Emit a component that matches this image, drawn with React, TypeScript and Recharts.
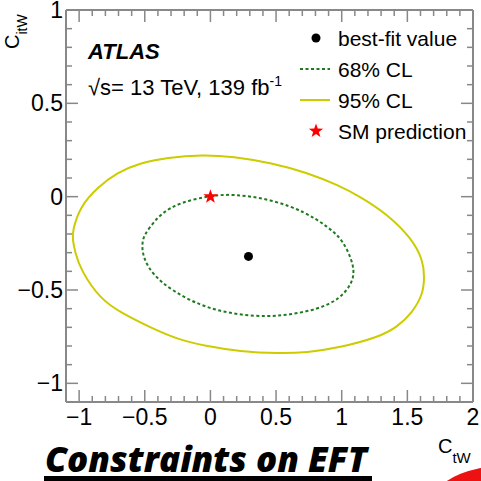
import React from "react";
import {
  ComposedChart,
  Scatter,
  XAxis,
  YAxis,
} from "recharts";

// 95% CL contour, traced counter-clockwise starting on the left side
const C95_X = [
  -1.05, -0.99, -0.86, -0.71, -0.54, -0.33, -0.06, 0.17, 0.47, 0.73, 0.98,
  1.14, 1.34, 1.53, 1.62, 1.63, 1.62, 1.54, 1.42, 1.29, 0.98, 0.73, 0.53,
  0.22, -0.03, -0.23, -0.46, -0.66, -0.84, -0.99, -1.03, -1.05,
];
const C95_Y = [
  -0.18, -0.05, 0.05, 0.13, 0.18, 0.21, 0.225, 0.215, 0.18, 0.13, 0.06,
  0.0, -0.09, -0.22, -0.34, -0.43, -0.52, -0.62, -0.7, -0.75, -0.81, -0.835,
  -0.84, -0.83, -0.8, -0.77, -0.7, -0.63, -0.55, -0.39, -0.3, -0.23,
];

// 68% CL contour
const C68_X = [
  -0.52, -0.48, -0.38, -0.23, 0.0, 0.17, 0.47, 0.73, 0.89, 1.01, 1.1, 1.085,
  0.985, 0.81, 0.6, 0.43, 0.22, 0.02, -0.18, -0.38, -0.48, -0.52,
];
const C68_Y = [
  -0.23, -0.18, -0.09, -0.03, 0.005, 0.015, -0.015, -0.085, -0.16, -0.23,
  -0.375, -0.46, -0.55, -0.605, -0.633, -0.643, -0.633, -0.605, -0.55, -0.46,
  -0.375, -0.3,
];

const BEST_FIT = [{ x: 0.29, y: -0.32 }];
const SM_POINT = [{ x: 0, y: 0 }];

const X_DOMAIN = [-1.1, 2];
const Y_DOMAIN = [-1.1, 1];

const LEGEND_ITEMS = ["best-fit value", "68% CL", "95% CL", "SM prediction"];

const zip = (xs: number[], ys: number[]) =>
  xs.map((x, i) => ({ x, y: ys[i] }));

const contour95 = zip(C95_X, C95_Y);
const contour68 = zip(C68_X, C68_Y);

// minor ticks every 0.1, majors every 0.5
const makeTicks = (lo: number, hi: number) => {
  const out: number[] = [];
  for (let k = Math.round(lo * 10); k <= Math.round(hi * 10); k++) {
    out.push(k / 10);
  }
  return out;
};
const xTicks = makeTicks(X_DOMAIN[0], X_DOMAIN[1]);
const yTicks = makeTicks(Y_DOMAIN[0], Y_DOMAIN[1]);

const isMajor = (v: number) => Math.abs(v * 2 - Math.round(v * 2)) < 1e-6;
const fmt = (v: number) =>
  (v < 0 ? "\u2212" : "") + String(Math.abs(Math.round(v * 10) / 10));

const FRAME = "#888888";
const YELLOW = "#cccc00";
const GREEN = "#1f7a1f";
const TICK_FONT = "'Liberation Sans', Arial, sans-serif";
const MAJOR = 12;
const MINOR = 6;

function BottomTick(props: any) {
  const { x, y, payload } = props;
  const v = payload.value;
  const major = isMajor(v);
  return (
    <g>
      <line x1={x} x2={x} y1={y} y2={y - (major ? MAJOR : MINOR)} stroke={FRAME} strokeWidth={1.5} />
      {major && (
        <text x={x} y={y + 23} textAnchor="middle" fontSize={23} fontFamily={TICK_FONT} fill="#000">
          {fmt(v)}
        </text>
      )}
    </g>
  );
}

function TopTick(props: any) {
  const { x, y, payload } = props;
  const major = isMajor(payload.value);
  return (
    <line x1={x} x2={x} y1={y} y2={y + (major ? MAJOR : MINOR)} stroke={FRAME} strokeWidth={1.5} />
  );
}

function LeftTick(props: any) {
  const { x, y, payload } = props;
  const v = payload.value;
  const major = isMajor(v);
  return (
    <g>
      <line x1={x} x2={x + (major ? MAJOR : MINOR)} y1={y} y2={y} stroke={FRAME} strokeWidth={1.5} />
      {major && (
        <text x={x - 3} y={y + 8} textAnchor="end" fontSize={23} fontFamily={TICK_FONT} fill="#000">
          {fmt(v)}
        </text>
      )}
    </g>
  );
}

function RightTick(props: any) {
  const { x, y, payload } = props;
  const major = isMajor(payload.value);
  return (
    <line x1={x} x2={x - (major ? MAJOR : MINOR)} y1={y} y2={y} stroke={FRAME} strokeWidth={1.5} />
  );
}

const starPoints = (cx: number, cy: number, ro: number, ri: number) => {
  const pts: string[] = [];
  for (let i = 0; i < 10; i++) {
    const r = i % 2 === 0 ? ro : ri;
    const a = -Math.PI / 2 + (i * Math.PI) / 5;
    pts.push(`${cx + r * Math.cos(a)},${cy + r * Math.sin(a)}`);
  }
  return pts.join(" ");
};

const Star = (props: any) => (
  <polygon points={starPoints(props.cx, props.cy, 7.5, 3)} fill="#ff0000" />
);
const Dot = (props: any) => <circle cx={props.cx} cy={props.cy} r={4.5} fill="#000" />;
const NoShape = () => <g />;

const axisCommon = {
  tickSize: 0,
  tickMargin: 0,
  tickLine: false,
  interval: 0 as const,
  allowDataOverflow: true,
  axisLine: { stroke: FRAME, strokeWidth: 2 },
};

export default function App() {
  const rowY = [38, 69, 100, 131];
  return (
    <div style={{ position: "absolute", left: 0, top: 0, width: 481, height: 481, background: "#fff", overflow: "hidden" }}>
      <ComposedChart
        width={481}
        height={481}
        margin={{ top: 9, right: 7, bottom: 78, left: 65 }}
        style={{ position: "absolute", left: 0, top: 0 }}
      >
        <XAxis
          {...axisCommon}
          xAxisId="b"
          type="number"
          dataKey="x"
          domain={X_DOMAIN}
          ticks={xTicks}
          height={1}
          tick={<BottomTick />}
        />
        <XAxis
          {...axisCommon}
          xAxisId="t"
          orientation="top"
          type="number"
          dataKey="x"
          domain={X_DOMAIN}
          ticks={xTicks}
          height={1}
          tick={<TopTick />}
        />
        <YAxis
          {...axisCommon}
          yAxisId="l"
          type="number"
          dataKey="y"
          domain={Y_DOMAIN}
          ticks={yTicks}
          width={1}
          tick={<LeftTick />}
        />
        <YAxis
          {...axisCommon}
          yAxisId="r"
          orientation="right"
          type="number"
          dataKey="y"
          domain={Y_DOMAIN}
          ticks={yTicks}
          width={1}
          tick={<RightTick />}
        />

        <Scatter
          xAxisId="b"
          yAxisId="l"
          data={contour95}
          line={{ stroke: YELLOW, strokeWidth: 2, fill: "none" }}
          lineType="joint"
          lineJointType="basisClosed"
          shape={<NoShape />}
          isAnimationActive={false}
        />
        <Scatter
          xAxisId="b"
          yAxisId="l"
          data={contour68}
          line={{ stroke: GREEN, strokeWidth: 2, strokeDasharray: "3 2.5", fill: "none" }}
          lineType="joint"
          lineJointType="basisClosed"
          shape={<NoShape />}
          isAnimationActive={false}
        />
        <Scatter xAxisId="b" yAxisId="l" data={BEST_FIT} shape={<Dot />} isAnimationActive={false} />
        <Scatter xAxisId="b" yAxisId="l" data={SM_POINT} shape={<Star />} isAnimationActive={false} />
      </ComposedChart>

      <svg
        width={481}
        height={481}
        style={{ position: "absolute", left: 0, top: 0, pointerEvents: "none" }}
        fontFamily={TICK_FONT}
      >
        {/* axis titles */}
        <text transform="translate(19,49) rotate(-90)" fontSize={20} fill="#000">
          C<tspan fontSize={14} dy={8}>itW</tspan>
        </text>
        <text x={438} y={453} fontSize={20} fill="#000">
          C<tspan fontSize={15} dy={10}>tW</tspan>
        </text>

        {/* experiment labels */}
        <text x={88} y={59} fontSize={22} fontWeight="bold" fontStyle="italic" fill="#000">
          ATLAS
        </text>
        <text x={88} y={95} fontSize={22} fill="#000">
          √s= 13 TeV, 139 fb<tspan fontSize={14} dy={-9}>-1</tspan>
        </text>

        {/* legend */}
        <circle cx={316} cy={rowY[0]} r={4.5} fill="#000" />
        <line x1={300} x2={330} y1={rowY[1]} y2={rowY[1]} stroke={GREEN} strokeWidth={2} strokeDasharray="3 2.5" />
        <line x1={300} x2={330} y1={rowY[2]} y2={rowY[2]} stroke={YELLOW} strokeWidth={2} />
        <polygon points={starPoints(316, rowY[3], 7.5, 3)} fill="#ff0000" />
        {LEGEND_ITEMS.map((label, i) => (
          <text key={label} x={338} y={rowY[i] + 7.5} fontSize={21} fill="#000">
            {label}
          </text>
        ))}

        {/* caption */}
        <text
          x={45}
          y={472}
          fontSize={35}
          fontWeight={800}
          fontStyle="italic"
          fontFamily="'Open Sans', sans-serif"
          fill="#000"
        >
          Constraints on EFT
        </text>
        <rect x={44} y={476} width={328} height={5} fill="#000" />

        <circle cx={495} cy={557} r={90} fill="#ee1111" />
      </svg>
    </div>
  );
}
